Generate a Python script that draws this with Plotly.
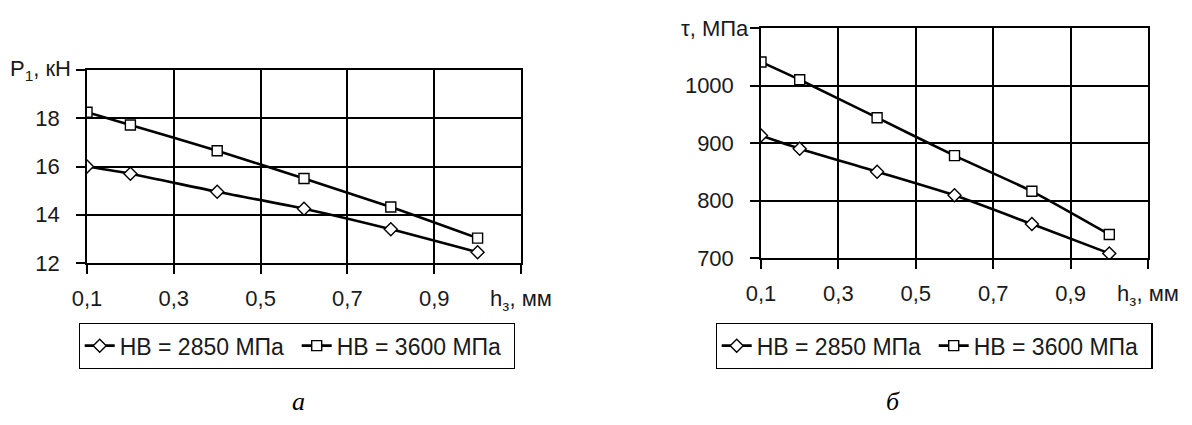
import plotly.graph_objects as go

W, H = 1192, 425

h_z = [0.1, 0.2, 0.4, 0.6, 0.8, 1.0]
p1_hb2850 = [16.0, 15.7, 14.95, 14.25, 13.4, 12.45]
p1_hb3600 = [18.25, 17.72, 16.65, 15.5, 14.32, 13.03]
tau_hb2850 = [913, 890, 850, 809, 759, 708]
tau_hb3600 = [1041, 1010, 944, 878, 816, 741]

series_names = ["HB = 2850 МПа", "HB = 3600 МПа"]
x_tickvals = [0.1, 0.3, 0.5, 0.7, 0.9, 1.1]
x_ticktext = ["0,1", "0,3", "0,5", "0,7", "0,9", "h<sub>з</sub>, мм"]
p_tickvals = [12, 14, 16, 18]
p_ticktext = ["12", "14", "16", "18"]
p_top = 20
t_tickvals = [700, 800, 900, 1000]
t_ticktext = ["700", "800", "900", "1000"]
t_top = 1100

FONT = "Liberation Sans, Arial, sans-serif"
TXT = "#1a1a1a"

def px(x):
    return x / W

def py(y):
    return 1 - y / H

fig = go.Figure()

line_style = dict(color="black", width=2.6, shape="spline", smoothing=0.6)
diamond = dict(symbol="diamond", size=10, color="white", line=dict(color="black", width=1.4))
square = dict(symbol="square", size=10, color="white", line=dict(color="black", width=1.4))

fig.add_trace(go.Scatter(x=h_z, y=p1_hb2850, mode="lines+markers", name=series_names[0],
                         line=line_style, marker=diamond, xaxis="x", yaxis="y", legend="legend"))
fig.add_trace(go.Scatter(x=h_z, y=p1_hb3600, mode="lines+markers", name=series_names[1],
                         line=line_style, marker=square, xaxis="x", yaxis="y", legend="legend"))
fig.add_trace(go.Scatter(x=h_z, y=tau_hb2850, mode="lines+markers", name=series_names[0],
                         line=line_style, marker=diamond, xaxis="x2", yaxis="y2", legend="legend2"))
fig.add_trace(go.Scatter(x=h_z, y=tau_hb3600, mode="lines+markers", name=series_names[1],
                         line=line_style, marker=square, xaxis="x2", yaxis="y2", legend="legend2"))

axis_common = dict(showline=True, mirror=True, linecolor="black", linewidth=1.5,
                   showgrid=True, gridcolor="black", gridwidth=1.5, zeroline=False,
                   ticks="outside", tickcolor="black", tickwidth=1.5, ticklen=9,
                   tickfont=dict(family=FONT, size=22, color=TXT),
                   automargin=False, fixedrange=True)

def minor_top(v):
    return dict(tickmode="array", tickvals=[v], ticks="outside", ticklen=9,
                tickcolor="black", tickwidth=1.5, showgrid=False)

legend_common = dict(orientation="h", xanchor="center", yanchor="top",
                     bordercolor="black", borderwidth=1.2, bgcolor="white",
                     font=dict(family=FONT, size=23, color=TXT), itemwidth=30,
                     entrywidth=172, entrywidthmode="pixels",
                     tracegroupgap=0, itemclick=False, itemdoubleclick=False)

fig.update_layout(
    width=W, height=H,
    margin=dict(l=0, r=0, t=0, b=0, autoexpand=False),
    paper_bgcolor="white", plot_bgcolor="white",
    showlegend=True,
    xaxis=dict(domain=[px(87), px(521)], range=[0.1, 1.1], tickmode="array",
               tickvals=x_tickvals, ticktext=x_ticktext, anchor="y",
               ticklabelstandoff=6, **axis_common),
    yaxis=dict(domain=[py(263), py(70)], range=[12, p_top], tickmode="array",
               tickvals=p_tickvals, ticktext=p_ticktext, anchor="x",
               minor=minor_top(p_top), ticklabelstandoff=12, **axis_common),
    xaxis2=dict(domain=[px(761), px(1148)], range=[0.1, 1.1], tickmode="array",
                tickvals=x_tickvals, ticktext=x_ticktext, anchor="y2",
                ticklabelstandoff=6, **axis_common),
    yaxis2=dict(domain=[py(258), py(28)], range=[700, t_top], tickmode="array",
                tickvals=t_tickvals, ticktext=t_ticktext, anchor="x2",
                minor=minor_top(t_top), ticklabelstandoff=12, **axis_common),
    legend=dict(x=px(297), y=py(323), **legend_common),
    legend2=dict(x=px(934), y=py(323), **legend_common),
)

ann_font = dict(family=FONT, size=22, color=TXT)
fig.add_annotation(text="P<sub>1</sub>, кН", xref="paper", yref="paper", x=px(73), y=py(70),
                   xanchor="right", yanchor="middle", showarrow=False, font=ann_font)
fig.add_annotation(text="τ, МПа", xref="paper", yref="paper", x=px(751), y=py(28),
                   xanchor="right", yanchor="middle", showarrow=False, font=ann_font)
serif = dict(family="Liberation Serif, Times New Roman, serif", size=26, color="black")
fig.add_annotation(text="<i>а</i>", xref="paper", yref="paper", x=px(298), y=py(401),
                   xanchor="center", yanchor="middle", showarrow=False, font=serif)
fig.add_annotation(text="<i>б</i>", xref="paper", yref="paper", x=px(893), y=py(401),
                   xanchor="center", yanchor="middle", showarrow=False, font=serif)

fig.write_html("out.html", config={"displayModeBar": False},
               post_script="document.body.style.margin='0';document.body.style.overflow='hidden';")
